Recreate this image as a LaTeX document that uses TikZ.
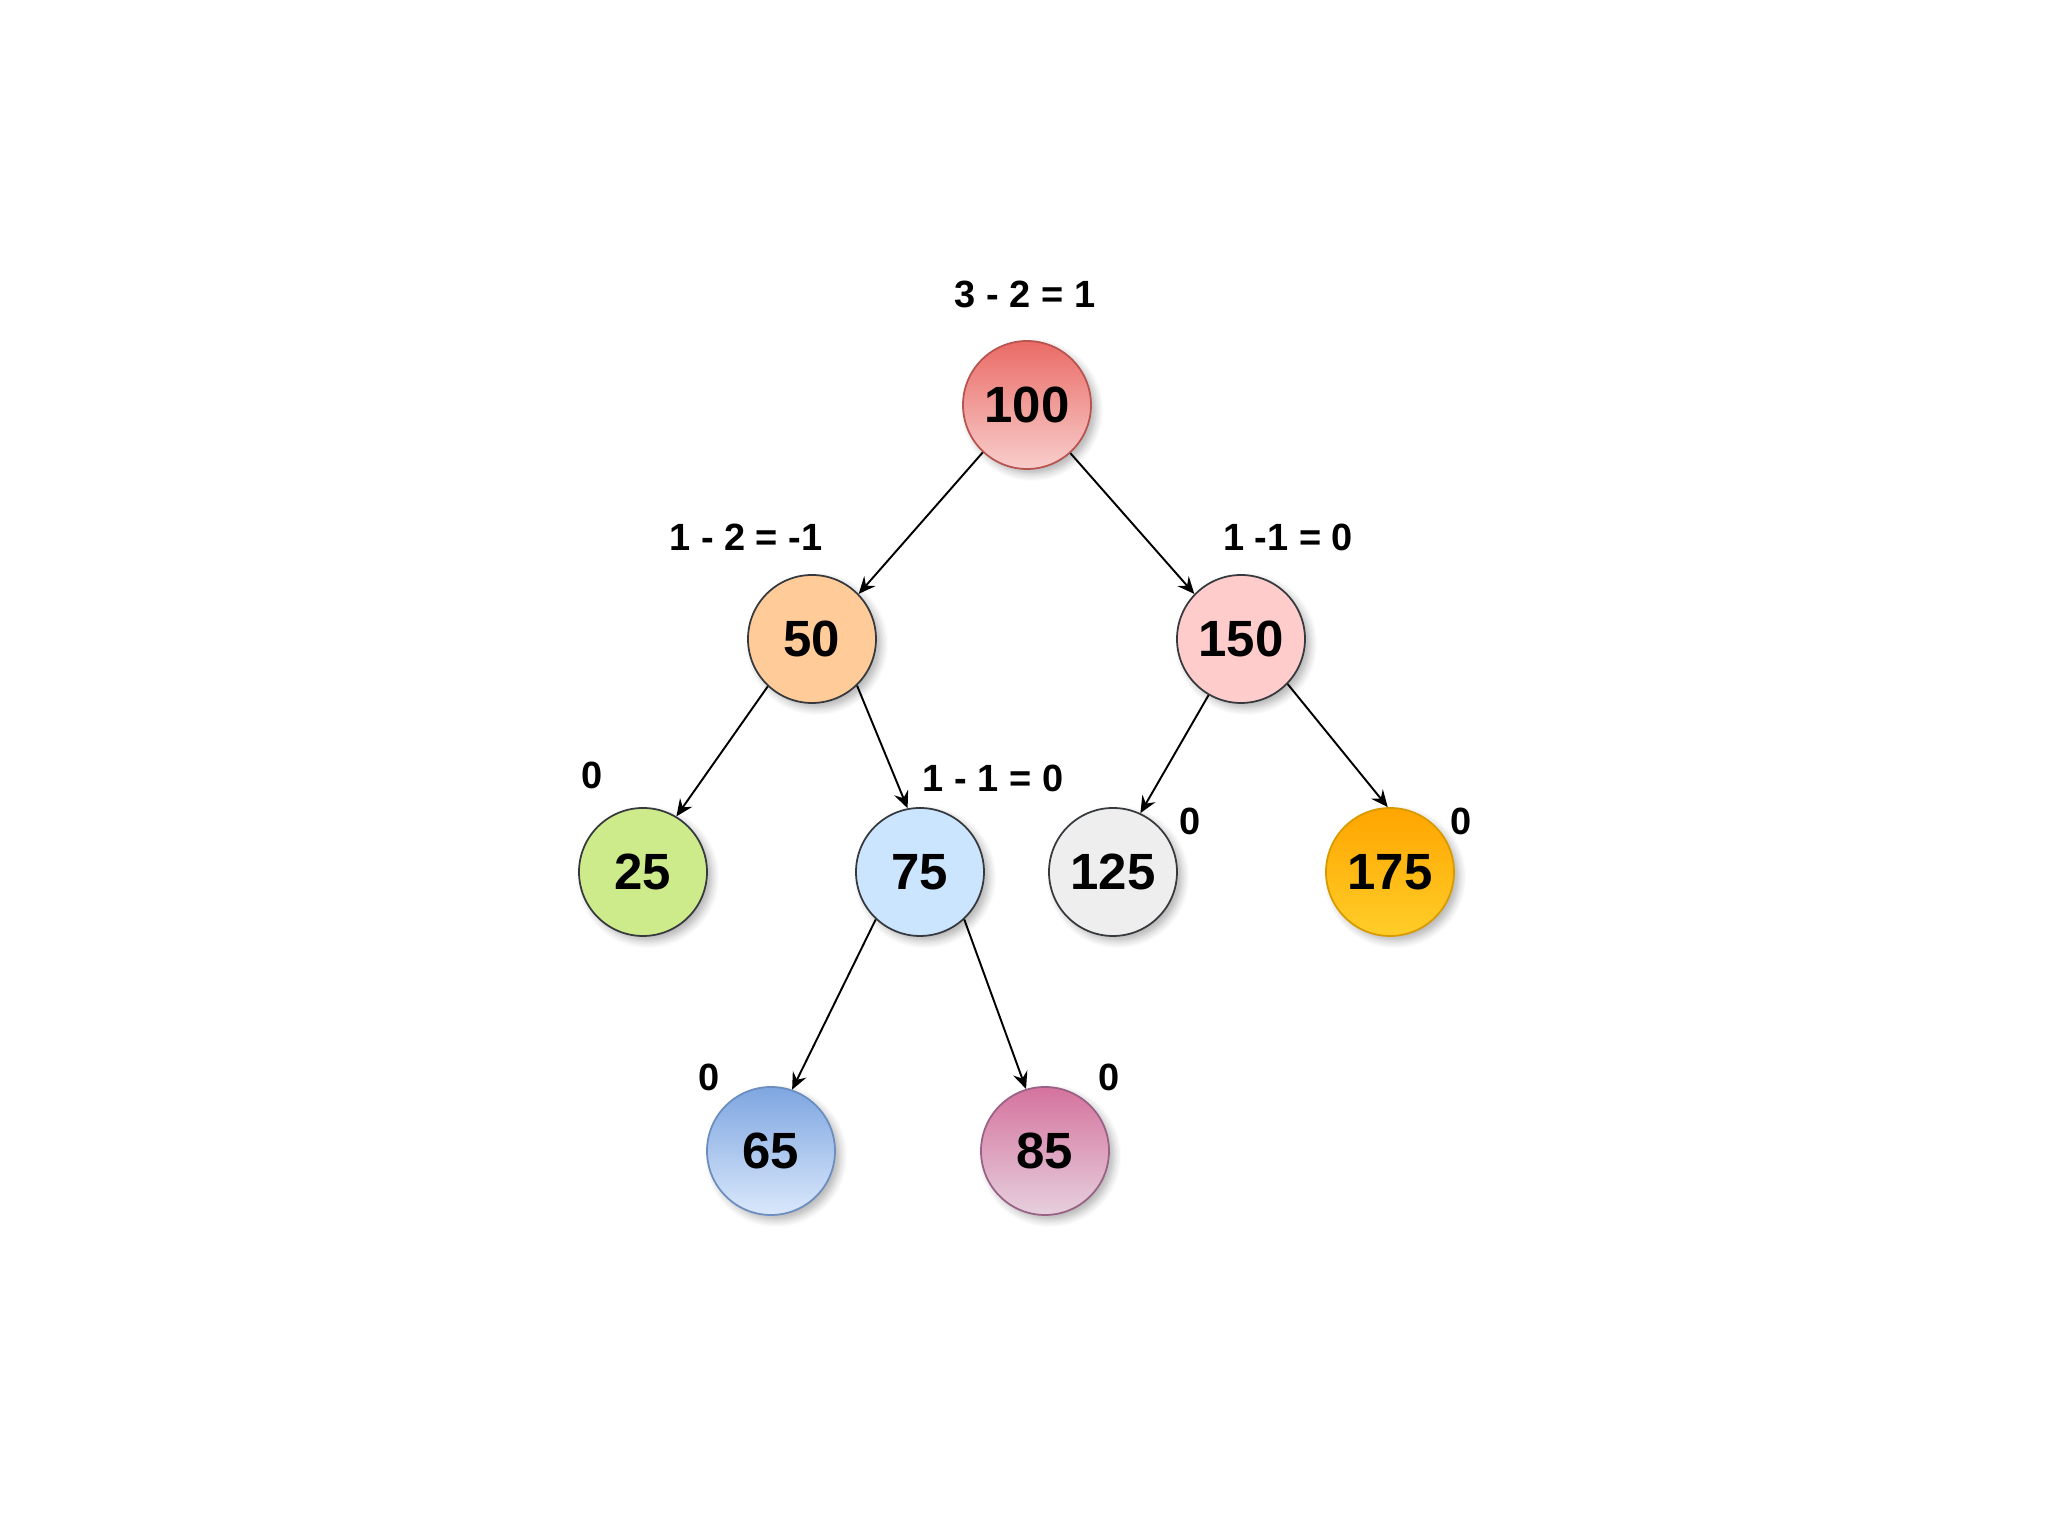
\documentclass[tikz,border=0pt]{standalone}
\usepackage{fontspec}
\setmainfont{Liberation Sans}
\usepackage{tikz}
\usetikzlibrary{arrows.meta,shadows.blur}
\usepackage{xcolor}
\definecolor{redtop}{HTML}{EA6B66}
\definecolor{redbot}{HTML}{F8CECC}
\definecolor{redline}{HTML}{B85450}
\definecolor{orangefill}{HTML}{FFCC99}
\definecolor{pinkfill}{HTML}{FFCCCC}
\definecolor{greenfill}{HTML}{CDEB8B}
\definecolor{bluefill}{HTML}{CCE5FF}
\definecolor{greyfill}{HTML}{EEEEEE}
\definecolor{darkline}{HTML}{36393D}
\definecolor{goldtop}{HTML}{FFA500}
\definecolor{goldbot}{HTML}{FFCD28}
\definecolor{goldline}{HTML}{D79B00}
\definecolor{skytop}{HTML}{7EA6E0}
\definecolor{skybot}{HTML}{DAE8FC}
\definecolor{skyline}{HTML}{6C8EBF}
\definecolor{rosetop}{HTML}{D5739D}
\definecolor{rosebot}{HTML}{E6D0DE}
\definecolor{roseline}{HTML}{996185}

\tikzset{
  treenode/.style={circle,minimum size=1.28cm,inner sep=0pt,line width=0.5pt,
    font=\fontsize{14.5}{17}\selectfont\bfseries,
    blur shadow={shadow xshift=0.05cm,shadow yshift=-0.05cm,shadow blur steps=6,shadow opacity=30}},
  redgrad/.style={draw=redline,top color=redtop,bottom color=redbot},
  orangeflat/.style={draw=darkline,fill=orangefill},
  pinkflat/.style={draw=darkline,fill=pinkfill},
  greenflat/.style={draw=darkline,fill=greenfill},
  blueflat/.style={draw=darkline,fill=bluefill},
  greyflat/.style={draw=darkline,fill=greyfill},
  goldgrad/.style={draw=goldline,top color=goldtop,bottom color=goldbot},
  skygrad/.style={draw=skyline,top color=skytop,bottom color=skybot},
  rosegrad/.style={draw=roseline,top color=rosetop,bottom color=rosebot},
  balance/.style={font=\fontsize{10.8}{13}\selectfont\bfseries,inner sep=1pt},
  edge/.style={line width=0.55pt,-{Stealth[length=0.17cm,width=0.15cm,inset=0.06cm]}}
}

\begin{document}
\begin{tikzpicture}
\useasboundingbox (0,0) rectangle (20.48,15.36);

% Nodes of the tree
\foreach \v/\x/\y/\sty in {100/10.27/11.31/redgrad, 50/8.12/8.97/orangeflat,
    150/12.41/8.97/pinkflat, 25/6.43/6.64/greenflat, 75/9.20/6.64/blueflat,
    125/11.13/6.64/greyflat, 175/13.90/6.64/goldgrad,
    65/7.71/3.85/skygrad, 85/10.45/3.85/rosegrad} {
    \node[treenode,\sty] (n\v) at (\x,\y) {\v};
}

% Balance factors
\node[balance] (b100) at (10.25,12.42) {3 - 2 = 1};
\node[balance] (b50) at (7.46,9.99) {1 - 2 = -1};
\node[balance] (b150) at (12.88,9.99) {1 -1 = 0};
\node[balance] (b25) at (5.92,7.61) {0};
\node[balance] (b75) at (9.93,7.58) {1 - 1 = 0};
\node[balance] (b125) at (11.90,7.15) {0};
\node[balance] (b175) at (14.61,7.15) {0};
\node[balance] (b65) at (7.09,4.59) {0};
\node[balance] (b85) at (11.09,4.59) {0};

% Edges
\draw[edge] (n100.227) -- (n50.44);
\draw[edge] (n100.312) -- (n150.136);
\draw[edge] (n50.227) -- (n25.59);
\draw[edge] (n50.314) -- (n75.101);
\draw[edge] (n150.240) -- (n125.65);
\draw[edge] (n150.316) -- (n175.92);
\draw[edge] (n75.227) -- (n65.71);
\draw[edge] (n75.313) -- (n85.107);

\end{tikzpicture}
\end{document}
